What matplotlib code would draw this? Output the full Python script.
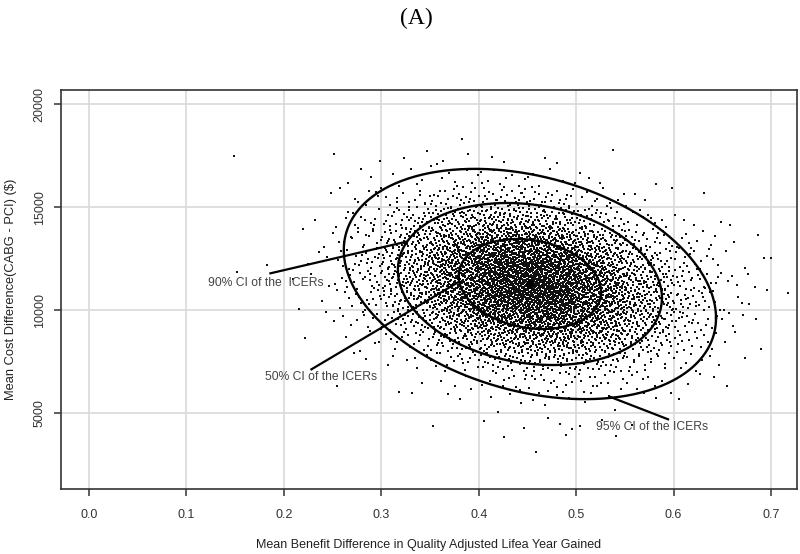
import numpy as np
import matplotlib
matplotlib.use("Agg")
import matplotlib.pyplot as plt

# ---------------- data ----------------
x_ticks = [0.0, 0.1, 0.2, 0.3, 0.4, 0.5, 0.6, 0.7]
x_tick_labels = ["0.0", "0.1", "0.2", "0.3", "0.4", "0.5", "0.6", "0.7"]
y_ticks = [5000, 10000, 15000, 20000]
y_tick_labels = ["5000", "10000", "15000", "20000"]

# bootstrap cloud, estimated as point counts per cell
x_bin_edges = [0.10, 0.15, 0.20, 0.25, 0.30, 0.35, 0.40, 0.45, 0.50, 0.55, 0.60, 0.65, 0.70, 0.75]
y_bin_edges = [3000, 4000, 5000, 6000, 7000, 8000, 9000, 10000, 11000, 12000,
               13000, 14000, 15000, 16000, 17000, 18000, 19000]
# counts per x-bin, listed from the 3000-4000 row up to the 18000-19000 row
n_x010 = [0, 0, 0, 0, 0, 0, 0, 0, 0, 0, 0, 0, 0, 0, 1, 0]
n_x015 = [0, 0, 0, 0, 0, 0, 0, 0, 1, 1, 0, 0, 0, 0, 0, 0]
n_x020 = [0, 0, 0, 0, 0, 1, 1, 2, 3, 3, 2, 1, 1, 0, 0, 0]
n_x025 = [0, 0, 0, 1, 2, 5, 10, 16, 20, 20, 16, 11, 7, 3, 2, 0]
n_x030 = [0, 0, 1, 2, 6, 16, 35, 58, 72, 70, 54, 32, 14, 5, 2, 0]
n_x035 = [0, 1, 2, 5, 18, 48, 95, 145, 170, 158, 112, 62, 26, 8, 3, 1]
n_x040 = [1, 2, 4, 11, 36, 92, 175, 255, 285, 245, 160, 80, 32, 9, 2, 0]
n_x045 = [2, 3, 5, 15, 48, 112, 205, 280, 290, 230, 140, 66, 24, 6, 2, 0]
n_x050 = [1, 2, 4, 13, 40, 88, 145, 180, 175, 130, 75, 33, 11, 3, 1, 0]
n_x055 = [0, 1, 2, 8, 20, 42, 66, 78, 70, 48, 26, 10, 4, 1, 0, 0]
n_x060 = [0, 0, 1, 3, 8, 15, 22, 26, 23, 16, 9, 4, 1, 0, 0, 0]
n_x065 = [0, 0, 0, 1, 1, 3, 4, 5, 5, 3, 2, 1, 0, 0, 0, 0]
n_x070 = [0, 0, 0, 0, 0, 0, 1, 1, 1, 1, 0, 0, 0, 0, 0, 0]

# mean point and confidence ellipses
mean_qaly = 0.4525
mean_cost = 11270
ci_labels = ["50% CI of the ICERs", "90% CI of the  ICERs", "95% CI of the ICERs"]
ell_half_x = [0.0731, 0.1355, 0.191]     # half extent along x
ell_half_y = [2148, 3870, 5335]         # vertical semi-axis term
ell_shear_y = [-388, -679, -1649]       # y offset at the x-extremes

# ---------------- helpers ----------------
def halton(i, b):
    f, r = 1.0, 0.0
    while i > 0:
        f /= b
        r += f * (i % b)
        i //= b
    return r


def lin_inv(q, a, b):
    """inverse CDF on [0,1] of a density that runs linearly from a to b"""
    if abs(b - a) < 1e-9 * max(a, b, 1e-12):
        return q
    return (-a + np.sqrt(a * a + (b - a) * q * (a + b))) / (b - a)


# ---------------- figure ----------------
plt.rcParams['font.family'] = ['Liberation Sans', 'DejaVu Sans']
fig = plt.figure(figsize=(8.0, 5.54), dpi=100)
ax = fig.add_axes([61 / 800, 1 - 489.3 / 554, (797 - 61) / 800, (489.3 - 90) / 554])

ax.set_xlim(-0.0287, 0.7266)
ax.set_ylim(1314, 20679)

for xt in x_ticks:
    ax.axvline(xt, color="#d9d9d9", lw=1.2, zorder=0)
for yt in y_ticks:
    ax.axhline(yt, color="#d9d9d9", lw=1.2, zorder=0)

# cloud: every cell's count spread over the cell, following the local density slope
cols = [n_x010, n_x015, n_x020, n_x025, n_x030, n_x035, n_x040, n_x045,
        n_x050, n_x055, n_x060, n_x065, n_x070]
D = np.array(cols, dtype=float)
Dp = np.pad(D, 1)
px, py = [], []
g = 30
for i in range(D.shape[0]):
    x0, x1 = x_bin_edges[i], x_bin_edges[i + 1]
    for j in range(D.shape[1]):
        n = int(D[i, j])
        if n == 0:
            continue
        y0, y1 = y_bin_edges[j], y_bin_edges[j + 1]
        c = D[i, j]
        aL = (Dp[i, j + 1] + c) / 2
        aR = (Dp[i + 2, j + 1] + c) / 2
        bB = (Dp[i + 1, j] + c) / 2
        bT = (Dp[i + 1, j + 2] + c) / 2
        for k in range(n):
            g += 1
            u = lin_inv(halton(g, 2), aL, aR)
            v = lin_inv(halton(g, 3), bB, bT)
            px.append(x0 + u * (x1 - x0))
            py.append(y0 + v * (y1 - y0))
ax.scatter(px, py, s=1.3, c="#111111", marker="s", linewidths=0, zorder=2)

# ellipses
t = np.linspace(0, 2 * np.pi, 400)
for A, B, C in zip(ell_half_x, ell_half_y, ell_shear_y):
    ex = mean_qaly + A * np.cos(t)
    ey = mean_cost + B * np.sin(t) + C * np.cos(t)
    ax.plot(ex, ey, color="black", lw=1.7, zorder=3)

ax.scatter([mean_qaly], [mean_cost], s=30, c="black", zorder=4)

# annotations
ann_kw = dict(fontsize=8.7, color="#444444", va="center", ha="left", zorder=5)
ax.plot([0.1862, 0.3258], [11789, 13322], color="black", lw=1.6, zorder=3)
ax.text(0.122, 11333, ci_labels[1], **ann_kw)
ax.plot([0.2283, 0.3798], [7133, 11382], color="black", lw=1.6, zorder=3)
ax.text(0.181, 6745, ci_labels[0], **ann_kw)
ax.plot([0.5344, 0.5943], [5804, 4708], color="black", lw=1.6, zorder=3)
ax.text(0.5208, 4320, ci_labels[2], **ann_kw)

# axes styling
for s in ax.spines.values():
    s.set_color("#333333")
    s.set_linewidth(1.2)
ax.set_xticks(x_ticks)
ax.set_xticklabels(x_tick_labels)
ax.set_yticks(y_ticks)
ax.set_yticklabels(y_tick_labels, rotation=90, va="center")
ax.tick_params(axis="both", direction="out", length=5, width=1.1, color="#333333",
               labelsize=9, labelcolor="#333333")
ax.tick_params(axis="x", pad=9)
ax.tick_params(axis="y", pad=6)

ax.set_xlabel("Mean Benefit Difference in Quality Adjusted Lifea Year Gained",
              fontsize=9, color="#222222", labelpad=13)
ax.set_ylabel("Mean Cost Difference(CABG - PCI) ($)", fontsize=9.3, color="#222222",
              labelpad=12)

fig.text(416 / 800, 1 - 18 / 554, "(A)", family="Liberation Serif", fontsize=17,
         ha="center", va="center", color="black")

fig.savefig("out.png", dpi=100)
